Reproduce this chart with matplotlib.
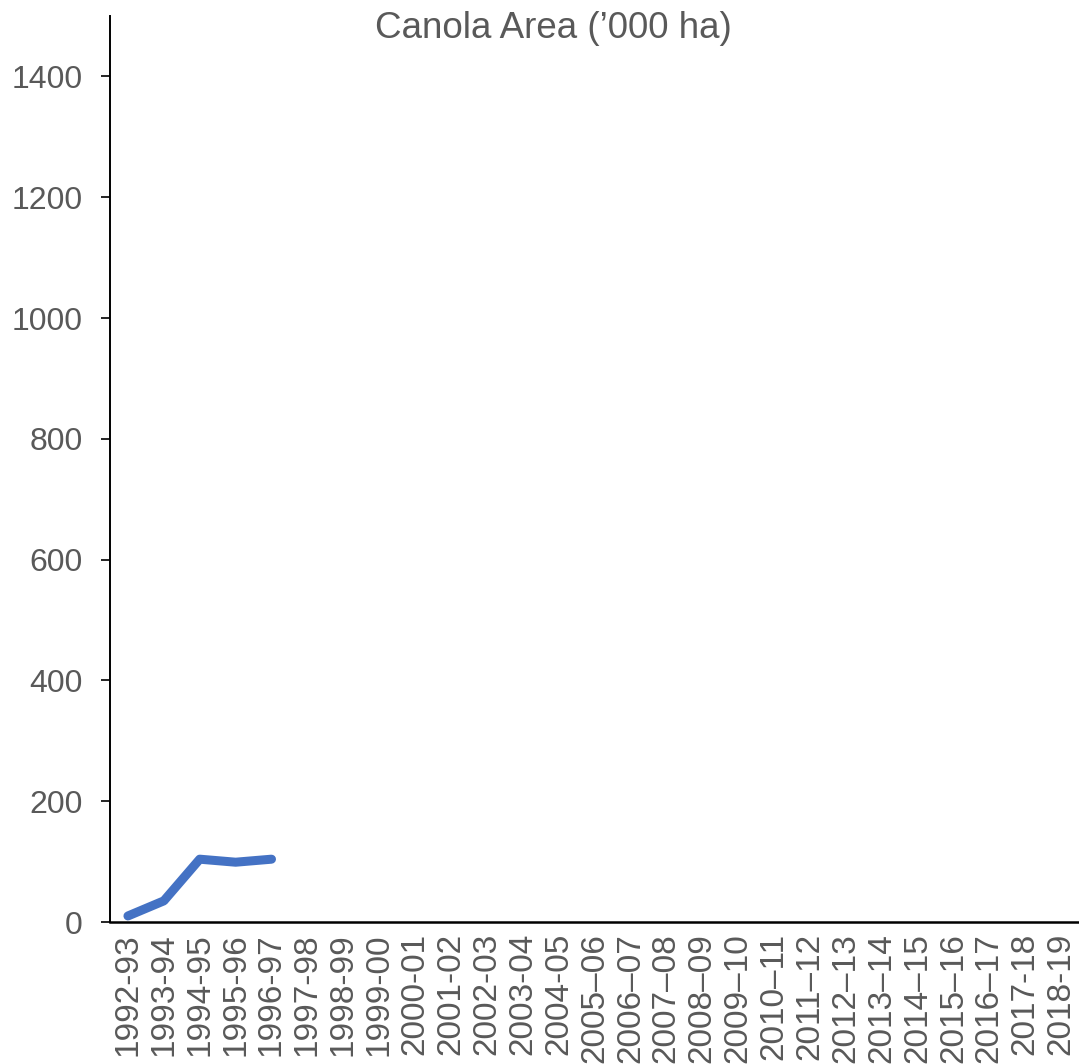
import matplotlib
matplotlib.use("Agg")
import matplotlib.pyplot as plt

seasons = ["1992-93", "1993-94", "1994-95", "1995-96", "1996-97", "1997-98",
           "1998-99", "1999-00", "2000-01", "2001-02", "2002-03", "2003-04",
           "2004-05", "2005\u201306", "2006\u201307", "2007\u201308", "2008\u201309",
           "2009\u201310", "2010\u201311", "2011\u201312", "2012\u201313", "2013\u201314",
           "2014\u201315", "2015\u201316", "2016\u201317", "2017-18", "2018-19"]
area = [10, 35, 104, 99, 104]
yticks = [0, 200, 400, 600, 800, 1000, 1200, 1400]

plt.rcParams['font.family'] = ['Liberation Sans', 'DejaVu Sans']
grey = '#595959'

fig = plt.figure(figsize=(10.79, 10.64), dpi=100)
ax = fig.add_axes([110/1079, 1-922/1064, 1-110/1079, 906/1064])

x = list(range(len(area)))
ax.plot(x, area, color='#4472C4', linewidth=6.5, solid_capstyle='round',
        solid_joinstyle='round')

ax.set_xlim(-0.5, len(seasons) - 0.5)
ax.set_ylim(0, 1500)
ax.set_xticks(range(len(seasons)))
ax.set_xticklabels(seasons, rotation=90, fontsize=24, color=grey)
ax.set_yticks(yticks)
ax.set_yticklabels([str(v) for v in yticks], fontsize=23, color=grey)
ax.tick_params(axis='x', length=0, pad=8)
ax.tick_params(axis='y', length=6.5, width=1.2, color='black', pad=13)

for s in ['top', 'right']:
    ax.spines[s].set_visible(False)
ax.spines['left'].set_linewidth(1.4)
ax.spines['bottom'].set_linewidth(1.8)
ax.spines['left'].set_color('black')
ax.spines['bottom'].set_color('black')

fig.text(553/1079, 1-28/1064, "Canola Area (\u2019000 ha)", fontsize=26.5,
         color=grey, ha='center', va='center')

fig.savefig('out.png', dpi=100)
